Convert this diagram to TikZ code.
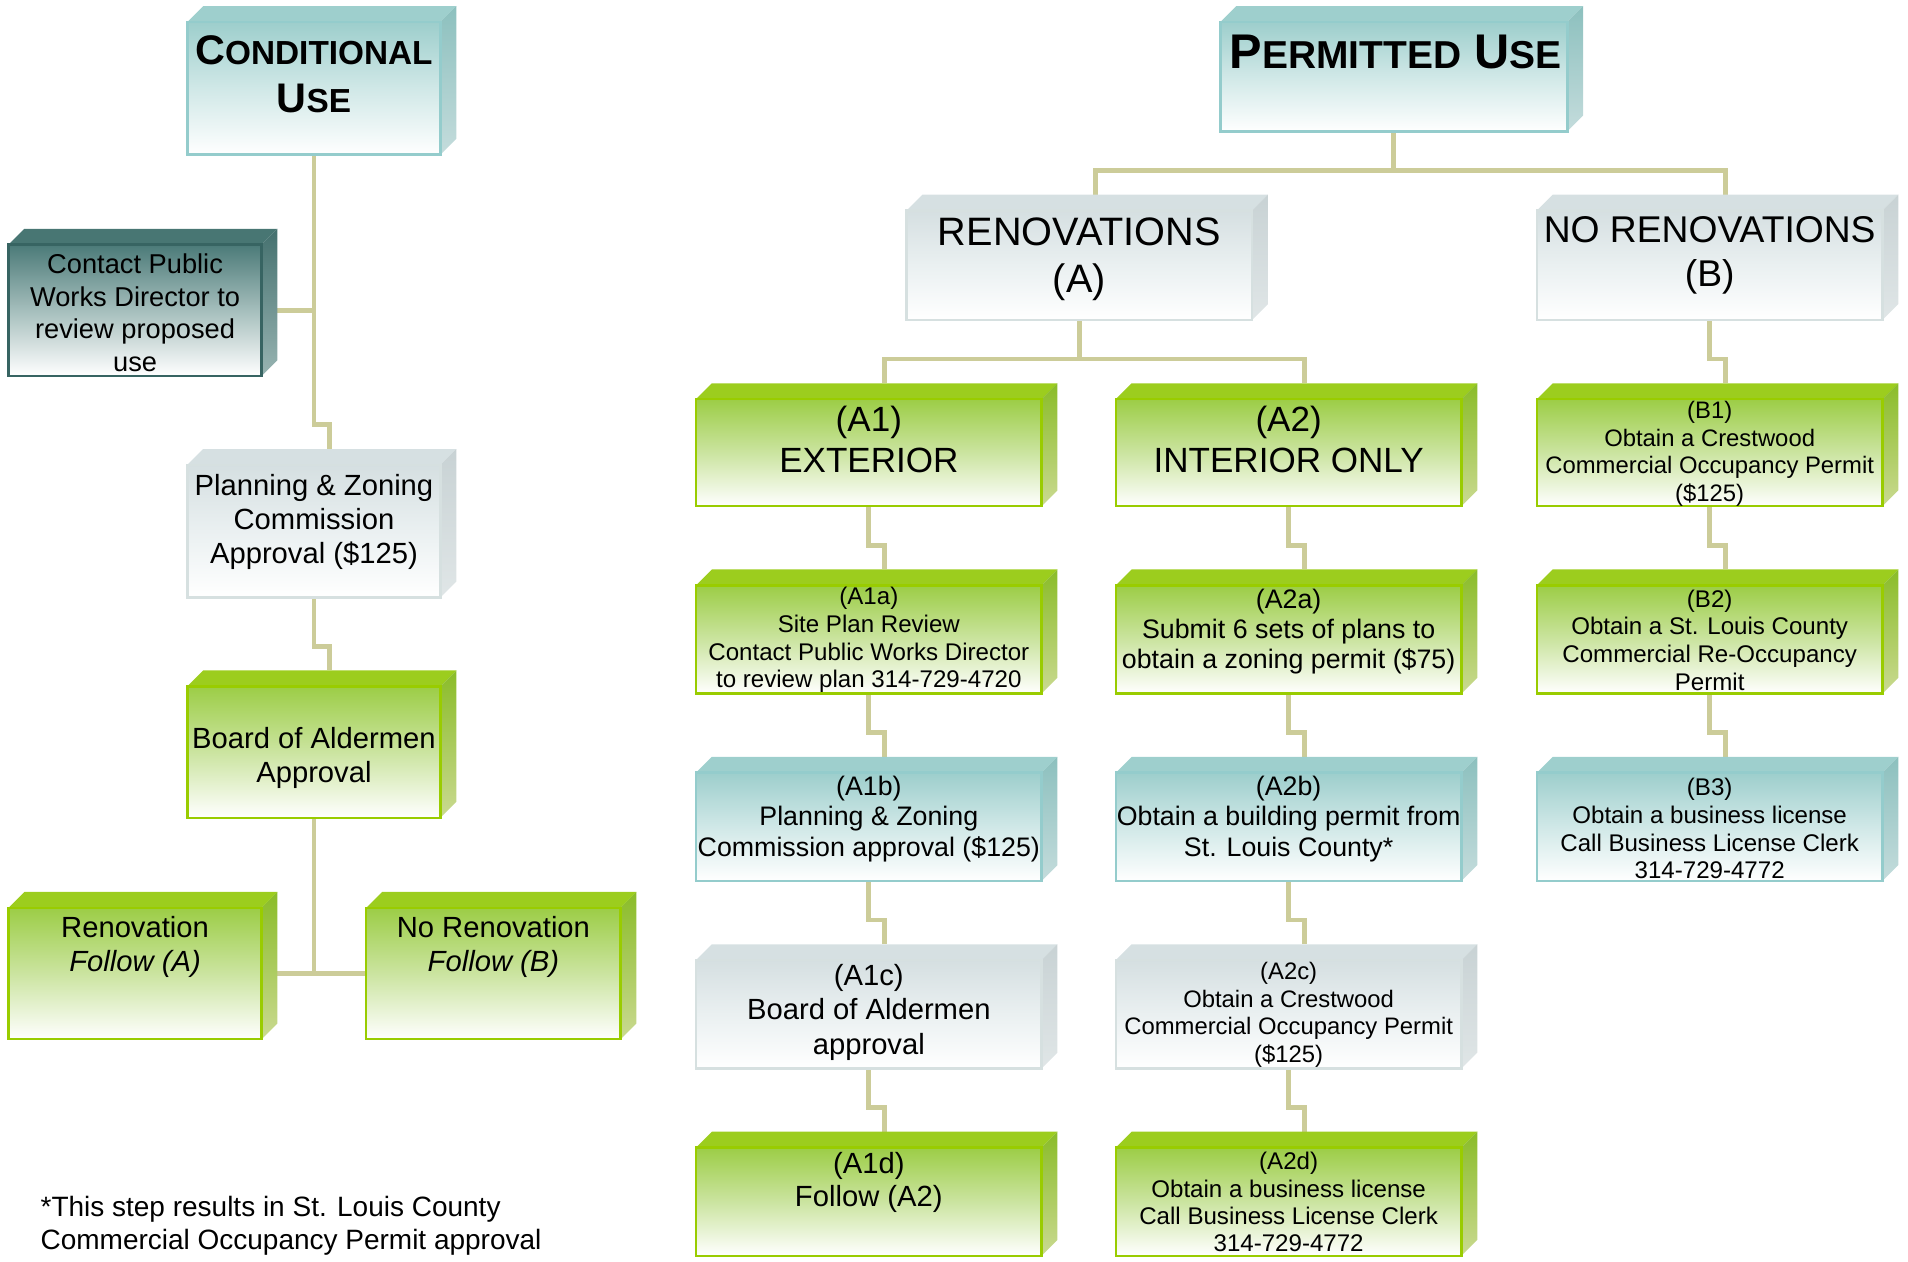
\documentclass[tikz,border=0pt]{standalone}
\usepackage{fontspec}
\setmainfont{Liberation Sans}
\usetikzlibrary{calc}
\pgfdeclarelayer{bg}
\pgfsetlayers{bg,main}
% green
\definecolor{Gface}{RGB}{156,205,30}
\definecolor{Gtop}{RGB}{156,205,70}
\definecolor{Gmid}{RGB}{203,228,160}
\definecolor{Gbd}{RGB}{153,204,0}
\definecolor{Gra}{RGB}{138,188,40}
\definecolor{Grb}{RGB}{202,218,145}
% teal
\definecolor{Tface}{RGB}{158,207,205}
\definecolor{Ttop}{RGB}{157,206,204}
\definecolor{Tmid}{RGB}{208,232,231}
\definecolor{Tbd}{RGB}{148,204,204}
\definecolor{Tra}{RGB}{140,192,190}
\definecolor{Trb}{RGB}{196,220,220}
% gray
\definecolor{Yface}{RGB}{214,224,226}
\definecolor{Ytop}{RGB}{213,223,225}
\definecolor{Ymid}{RGB}{234,240,241}
\definecolor{Ybd}{RGB}{214,224,224}
\definecolor{Yra}{RGB}{200,210,212}
\definecolor{Yrb}{RGB}{224,230,231}
% dark teal
\definecolor{Dface}{RGB}{72,118,115}
\definecolor{Dtop}{RGB}{75,122,120}
\definecolor{Dmid}{RGB}{165,190,188}
\definecolor{Dbd}{RGB}{55,100,98}
\definecolor{Dra}{RGB}{68,112,110}
\definecolor{Drb}{RGB}{152,180,178}
\definecolor{connc}{RGB}{204,204,153}
\newcommand\fs[2]{\fontsize{#1}{#2}\selectfont}
% name, x, y, w, h, scheme
\newcommand\cube[6]{%
  \fill[#6face] (#2,#3) -- ++(13,-13) -- ++(#4,0) -- ++(-13,13) -- cycle;
  \shade[top color=#6ra, bottom color=#6rb] (#2+#4,#3) -- ++(13,-13) -- ++(0,#5) -- ++(-13,13) -- cycle;
  \node[inner sep=0pt, outer sep=0pt, draw=#6bd, line width=1pt,
        top color=#6top, bottom color=white, middle color=#6mid,
        minimum width={#4*0.5pt}, minimum height={#5*0.5pt}, anchor=north west] (#1) at (#2,#3) {};%
}
\begin{document}
\begin{tikzpicture}[x=0.5pt,y=-0.5pt,
  conn/.style={draw=connc, line width=2pt},
  lbl/.style={align=center, inner sep=0pt, text=black, yshift=-1pt}]
\useasboundingbox (0,0) rectangle (1568,1037);

% ---- left column
\cube{cond}{154}{18}{208}{109}{T}
\cube{contact}{7}{201}{208}{108}{D}
\cube{pz}{154}{382}{208}{109}{Y}
\cube{board}{154}{564}{208}{108}{G}
\cube{renA}{7}{746}{208}{108}{G}
\cube{norenB}{301}{746}{209}{108}{G}

% ---- right part
\cube{perm}{1003}{18}{285}{90}{T}
\cube{ren}{745}{173}{284}{90}{Y}
\cube{noren}{1263}{173}{284}{90}{Y}
\cube{a1}{572}{328}{284}{88}{G}
\cube{a2}{917}{328}{284}{88}{G}
\cube{b1}{1263}{328}{284}{88}{G}
\cube{a1a}{572}{481}{284}{89}{G}
\cube{a2a}{917}{481}{284}{89}{G}
\cube{b2}{1263}{481}{284}{89}{G}
\cube{a1b}{572}{635}{284}{89}{T}
\cube{a2b}{917}{635}{284}{89}{T}
\cube{b3}{1263}{635}{284}{89}{T}
\cube{a1c}{572}{789}{284}{89}{Y}
\cube{a2c}{917}{789}{284}{89}{Y}
\cube{a1d}{572}{943}{284}{89}{G}
\cube{a2d}{917}{943}{284}{89}{G}

% ---- connectors
\begin{pgfonlayer}{bg}
\draw[conn] (cond.south) |- ($(pz.north)+(13,-33)$) -- ($(pz.north)+(13,-13)$);
\draw[conn] ($(contact.east)+(13,0)$) -- (contact.east -| cond.south);
\draw[conn] (pz.south) |- ($(board.north)+(13,-33)$) -- ($(board.north)+(13,-13)$);
\draw[conn] (board.south) |- (norenB.west);
\draw[conn] ($(renA.east)+(13,0)$) -- (norenB.west);
\draw[conn] (perm.south) |- ($(ren.north)+(13,-33)$) -- ($(ren.north)+(13,-13)$);
\draw[conn] (perm.south) |- ($(noren.north)+(13,-33)$) -- ($(noren.north)+(13,-13)$);
\draw[conn] (ren.south) |- ($(a1.north)+(13,-33)$) -- ($(a1.north)+(13,-13)$);
\draw[conn] (ren.south) |- ($(a2.north)+(13,-33)$) -- ($(a2.north)+(13,-13)$);
\draw[conn] (noren.south) |- ($(b1.north)+(13,-33)$) -- ($(b1.north)+(13,-13)$);
\draw[conn] (a1.south) |- ($(a1a.north)+(13,-33)$) -- ($(a1a.north)+(13,-13)$);
\draw[conn] (a1a.south) |- ($(a1b.north)+(13,-33)$) -- ($(a1b.north)+(13,-13)$);
\draw[conn] (a1b.south) |- ($(a1c.north)+(13,-33)$) -- ($(a1c.north)+(13,-13)$);
\draw[conn] (a1c.south) |- ($(a1d.north)+(13,-33)$) -- ($(a1d.north)+(13,-13)$);
\draw[conn] (a2.south) |- ($(a2a.north)+(13,-33)$) -- ($(a2a.north)+(13,-13)$);
\draw[conn] (a2a.south) |- ($(a2b.north)+(13,-33)$) -- ($(a2b.north)+(13,-13)$);
\draw[conn] (a2b.south) |- ($(a2c.north)+(13,-33)$) -- ($(a2c.north)+(13,-13)$);
\draw[conn] (a2c.south) |- ($(a2d.north)+(13,-33)$) -- ($(a2d.north)+(13,-13)$);
\draw[conn] (b1.south) |- ($(b2.north)+(13,-33)$) -- ($(b2.north)+(13,-13)$);
\draw[conn] (b2.south) |- ($(b3.north)+(13,-33)$) -- ($(b3.north)+(13,-13)$);
\end{pgfonlayer}

% ---- labels
\node[lbl, font=\bfseries\fs{17}{20}] (tcond) at (258,59) {C{\fs{13.7}{20}ONDITIONAL}\\U{\fs{13.7}{20}SE}};
\node[lbl, font=\fs{11.2}{13.5}] (tcontact) at (111,255) {Contact Public\\Works Director to\\review proposed\\use};
\node[lbl, font=\fs{12}{14}] (tpz) at (258,427) {Planning \& Zoning\\Commission\\Approval (\$125)};
\node[lbl, font=\fs{12}{14}] (tboard) at (258,621) {Board of Aldermen\\Approval};
\node[lbl, font=\fs{12}{14}] (trenA) at (111,776) {Renovation\\\itshape Follow (A)};
\node[lbl, font=\fs{12}{14}] (tnorenB) at (405.5,776) {No Renovation\\\itshape Follow (B)};

\node[lbl, font=\bfseries\fs{20}{22}] (tperm) at (1147,41) {P{\fs{16}{22}ERMITTED} U{\fs{16}{22}SE}};
\node[lbl, font=\fs{16.3}{19}] (tren) at (887,211) {RENOVATIONS\\(A)};
\node[lbl, font=\fs{15.3}{18}] (tnoren) at (1405,208) {NO RENOVATIONS\\(B)};
\node[lbl, font=\fs{14.4}{17}] (ta1) at (714,359) {(A1)\\EXTERIOR};
\node[lbl, font=\fs{14.4}{17}] (ta2) at (1059,359) {(A2)\\INTERIOR ONLY};
\node[lbl, font=\fs{9.8}{11.3}] (tb1) at (1405,371) {(B1)\\Obtain a Crestwood\\Commercial Occupancy Permit\\(\$125)};
\node[lbl, font=\fs{9.9}{11.4}] (ta1a) at (714,524) {(A1a)\\Site Plan Review\\Contact Public Works Director\\to review plan 314-729-4720};
\node[lbl, font=\fs{11}{12.5}] (ta2a) at (1059,517) {(A2a)\\Submit 6 sets of plans to\\obtain a zoning permit (\$75)};
\node[lbl, font=\fs{9.9}{11.4}] (tb2) at (1405,524) {(B2)\\Obtain a St. Louis County\\Commercial Re-Occupancy\\Permit};
\node[lbl, font=\fs{11}{12.5}] (ta1b) at (714,671) {(A1b)\\Planning \& Zoning\\Commission approval (\$125)};
\node[lbl, font=\fs{11}{12.5}] (ta2b) at (1059,671) {(A2b)\\Obtain a building permit from\\St. Louis County*};
\node[lbl, font=\fs{9.9}{11.4}] (tb3) at (1405,679) {(B3)\\Obtain a business license\\Call Business License Clerk\\314-729-4772};
\node[lbl, font=\fs{12}{14}] (ta1c) at (714,830) {(A1c)\\Board of Aldermen\\approval};
\node[lbl, font=\fs{9.8}{11.3}] (ta2c) at (1059,832) {(A2c)\\Obtain a Crestwood\\Commercial Occupancy Permit\\(\$125)};
\node[lbl, font=\fs{12}{13.5}] (ta1d) at (714,970) {(A1d)\\Follow (A2)};
\node[lbl, font=\fs{9.9}{11.2}] (ta2d) at (1059,986) {(A2d)\\Obtain a business license\\Call Business License Clerk\\314-729-4772};

\node[lbl, align=left, anchor=west, font=\fs{11.5}{13.5}] (foot) at (33,1005.5) {*This step results in St. Louis County\\Commercial Occupancy Permit approval};
\end{tikzpicture}
\end{document}
